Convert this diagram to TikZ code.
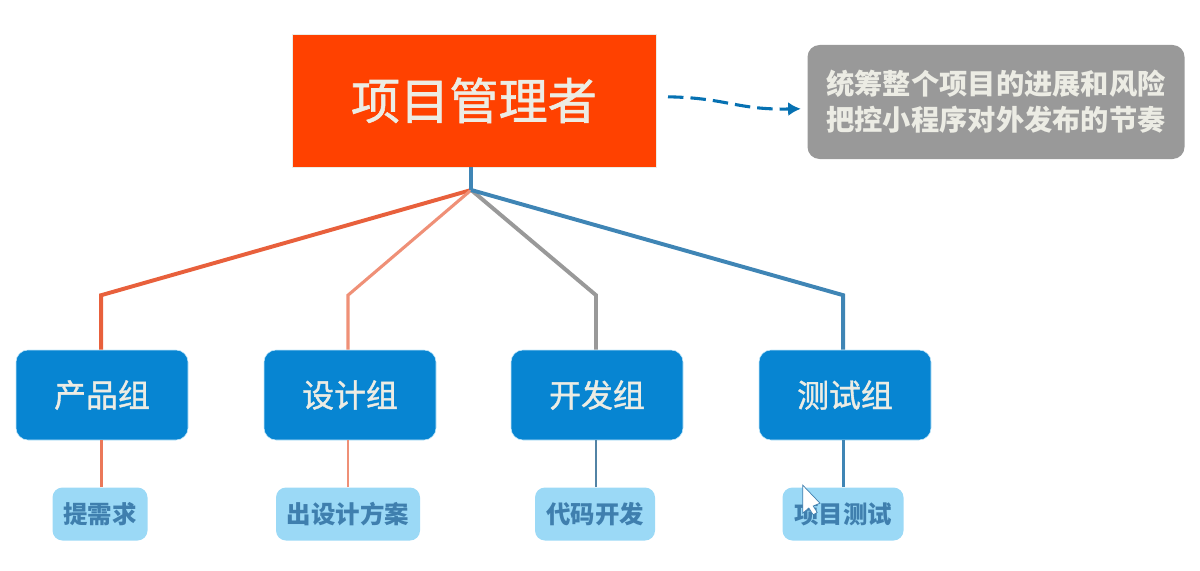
\documentclass[tikz,border=0pt]{standalone}
\usepackage{fontspec}
\setmainfont{Noto Sans CJK SC}
\newfontfamily\midfont[FakeBold=1.2]{Noto Sans CJK SC}
\usetikzlibrary{arrows.meta}
\definecolor{rootred}{HTML}{FF4100}
\definecolor{notegray}{HTML}{999999}
\definecolor{groupblue}{HTML}{0785D2}
\definecolor{tasksky}{HTML}{9BD9F6}
\definecolor{taskink}{HTML}{3F7FAE}
\definecolor{linered}{HTML}{E8603C}
\definecolor{lineblue}{HTML}{3F85B5}
\definecolor{softwhite}{HTML}{ECECE4}
\tikzset{
  rootbox/.style={fill=rootred,draw=softwhite,line width=.5pt,minimum width=9.1cm,minimum height=3.325cm,inner sep=0pt,text=softwhite,font=\fontsize{35}{40}\selectfont\midfont},
  notebox/.style={fill=notegray,rounded corners=.3cm,minimum width=9.425cm,minimum height=2.85cm,inner sep=0pt,text=softwhite,align=center,font=\fontsize{20.1}{25.5}\selectfont\bfseries},
  groupbox/.style={fill=groupblue,draw=tasksky!60,line width=.4pt,rounded corners=.3cm,minimum width=4.3cm,minimum height=2.25cm,inner sep=0pt,text=softwhite,font=\fontsize{22.7}{26}\selectfont\midfont},
  taskbox/.style={fill=tasksky,rounded corners=.25cm,minimum height=1.325cm,inner sep=0pt,text=taskink,font=\fontsize{17.4}{20}\selectfont\bfseries},
  linkline/.style={line width=2.8pt},
  thinline/.style={line width=2pt}
}

\begin{document}
\begin{tikzpicture}
\useasboundingbox (0,0) rectangle (30,14.25);
% top row
\node[rootbox] (root) at (11.85,11.74) {项目管理者};
\node[notebox] (note) at (24.9,11.7) {统筹整个项目的进展和风险\\把控小程序对外发布的节奏};
\coordinate (arrowstart) at (16.7,11.83);
\coordinate (arrowend) at (20.02,11.53);
\draw[groupblue!85!black,line width=2.2pt,dash pattern=on 11pt off 5pt,-{Latex[length=9pt,width=10pt]}] (arrowstart) .. controls (18.2,11.8) and (18.4,11.5) .. (arrowend);

% groups
\node[groupbox] (product) at (2.55,4.375) {产品组};
\node[groupbox] (design) at (8.75,4.375) {设计组};
\node[groupbox] (dev) at (14.925,4.375) {开发组};
\node[groupbox] (test) at (21.125,4.375) {测试组};

% tasks
\node[taskbox,minimum width=2.375cm] (needs) at (2.5,1.4) {提需求};
\node[taskbox,minimum width=3.6cm] (plan) at (8.7,1.4) {出设计方案};
\node[taskbox,minimum width=3cm] (coding) at (14.875,1.4) {代码开发};
\node[taskbox,minimum width=3.025cm] (testing) at (21.075,1.4) {项目测试};

% bends
\coordinate (hub) at (11.78,9.5);
\coordinate (productbend) at (2.53,6.87);
\coordinate (designbend) at (8.7,6.87);
\coordinate (devbend) at (14.9,6.87);
\coordinate (testbend) at (21.08,6.87);

\draw[linkline,linered] (hub) -- (productbend) -- (productbend |- product.north);
\draw[linkline,linered!70,line width=2.2pt] (hub) -- (designbend) -- (designbend |- design.north);
\draw[linkline,notegray] (hub) -- (devbend) -- (devbend |- dev.north);
\draw[linkline,lineblue] (hub) -- (testbend) -- (testbend |- test.north);
\draw[linkline,lineblue] (hub |- root.south) -- (hub);

\draw[thinline,linered!85] (needs.north -| productbend) -- (product.south -| productbend);
\draw[thinline,linered!70] (plan.north -| designbend) -- (design.south -| designbend);
\draw[thinline,lineblue!70!gray] (coding.north -| devbend) -- (dev.south -| devbend);
\draw[thinline,lineblue] (testing.north -| testbend) -- (test.south -| testbend);

% mouse pointer
\draw[fill=white,draw=taskink,line width=.5pt] (20.07,2.12) -- (20.07,1.42) -- (20.22,1.55) -- (20.33,1.38) -- (20.43,1.44) -- (20.33,1.6) -- (20.5,1.67) -- cycle;
\end{tikzpicture}
\end{document}
